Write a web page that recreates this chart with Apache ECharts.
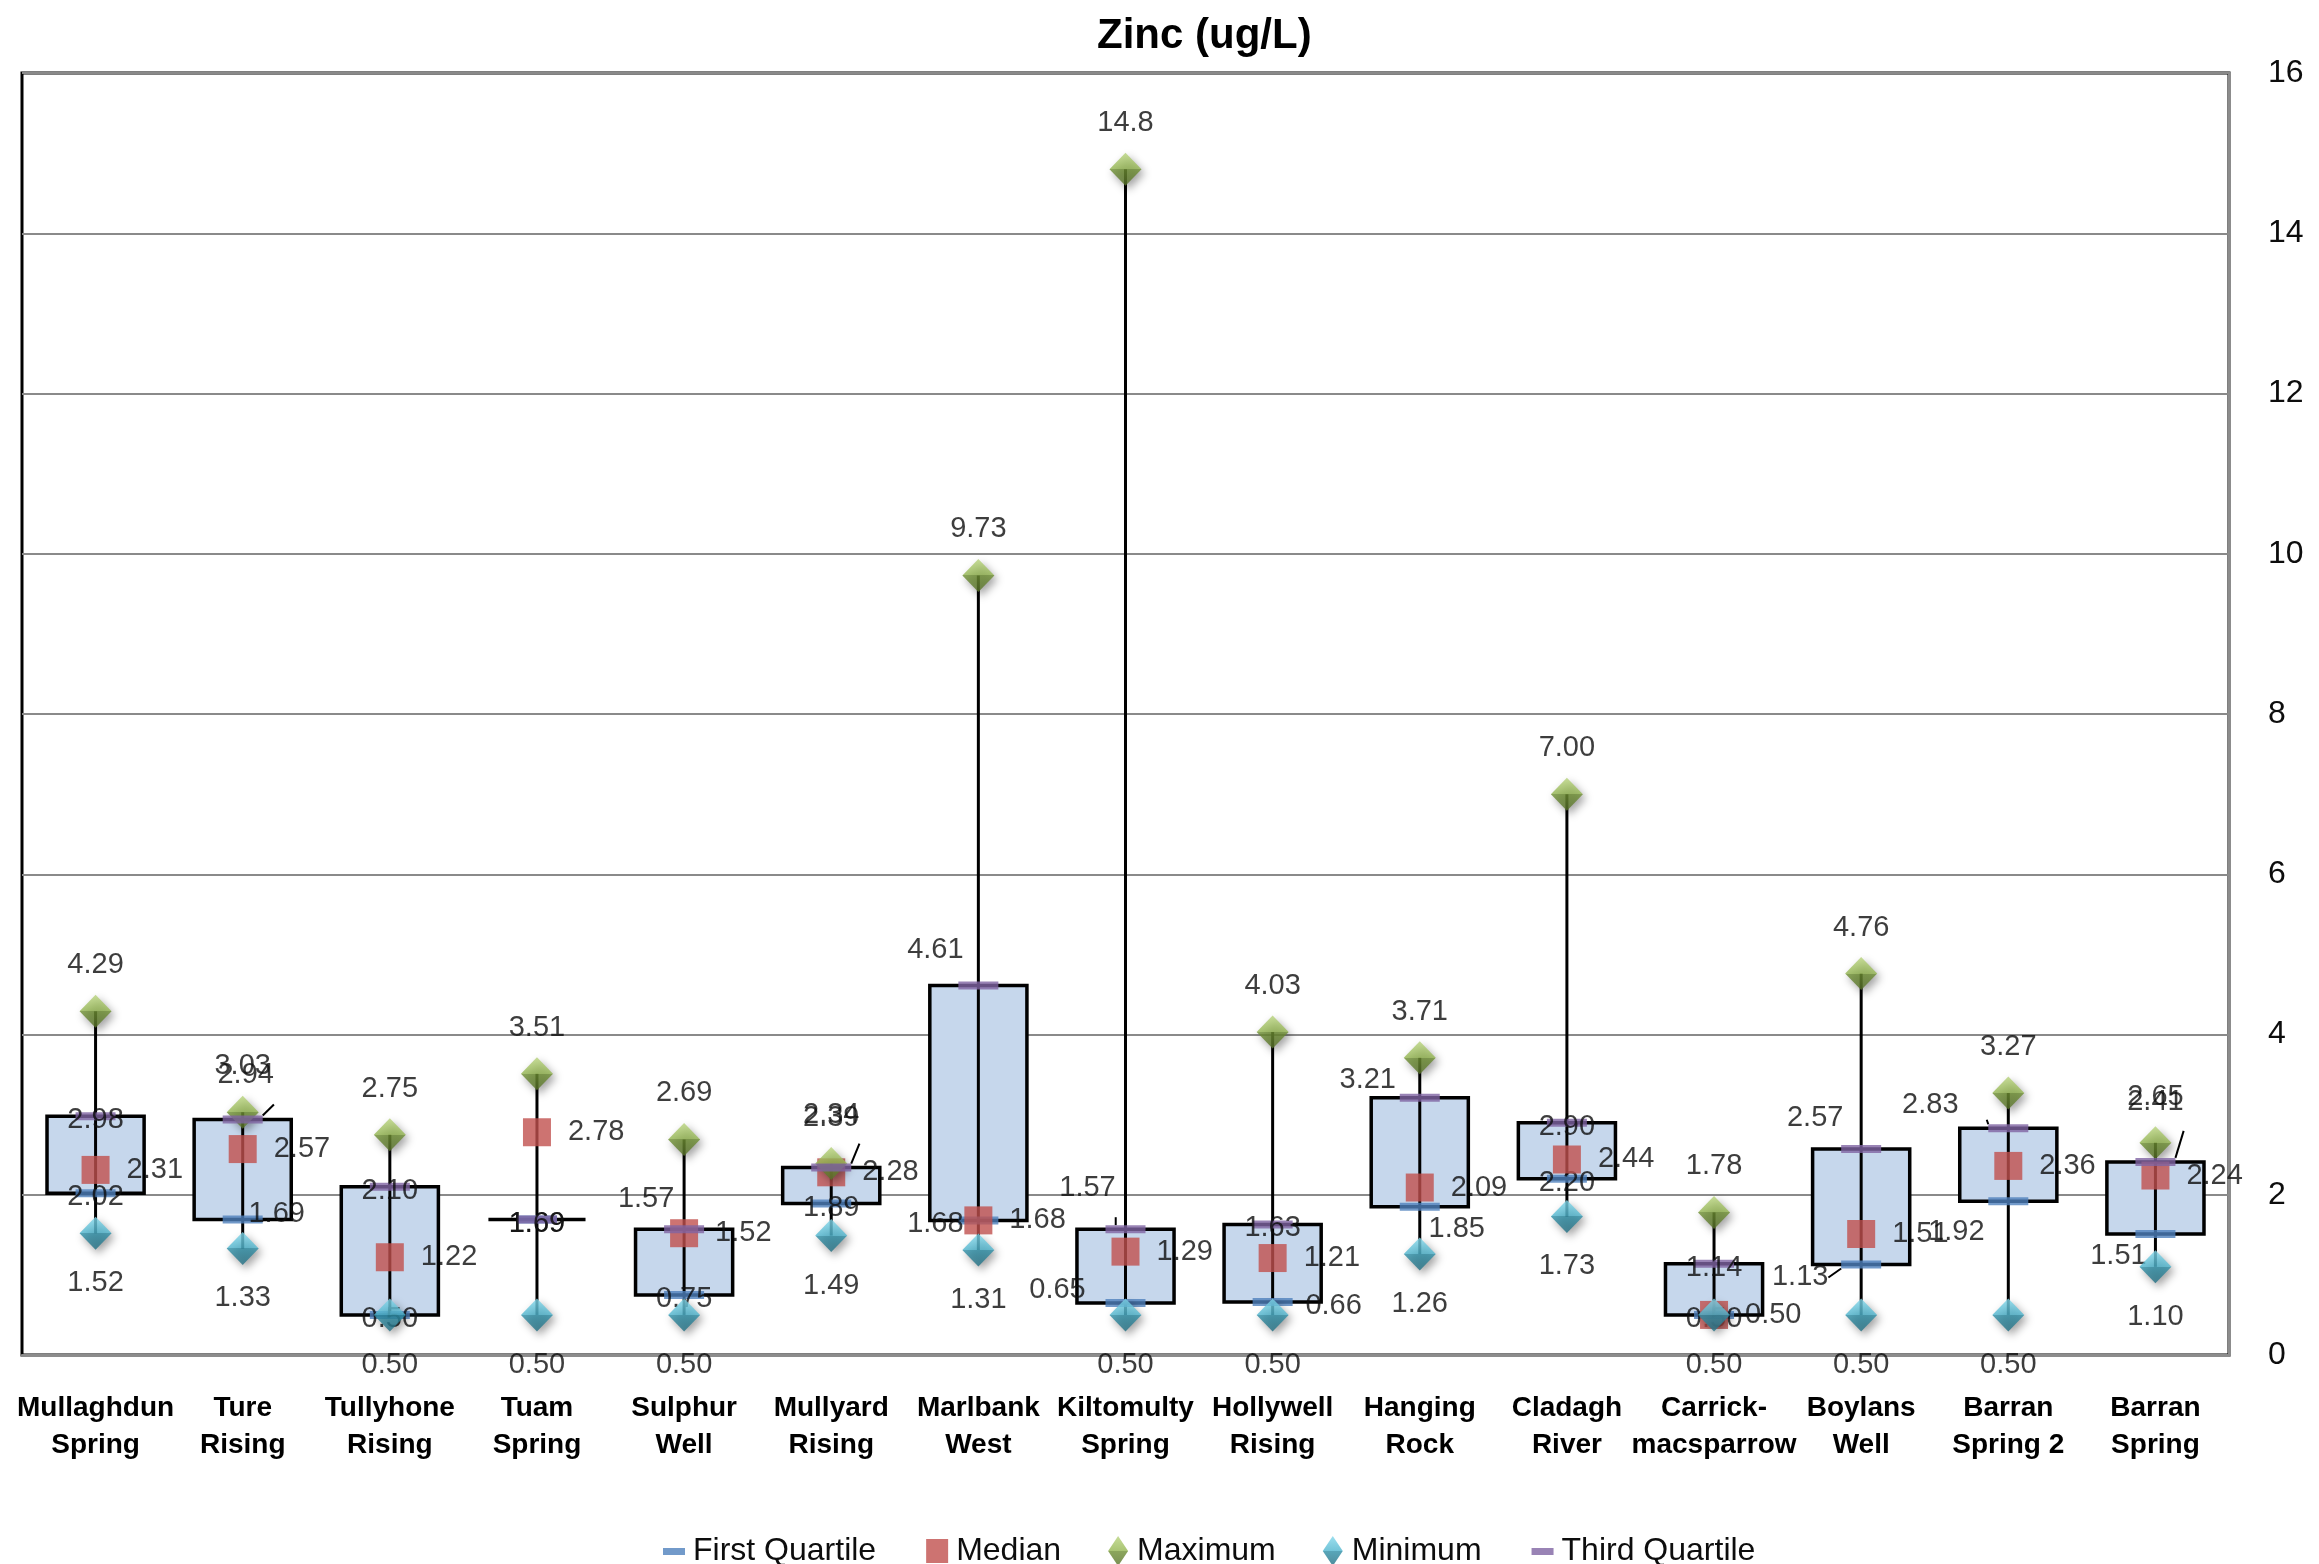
<!DOCTYPE html>
<html>
<head>
<meta charset="utf-8">
<script src="https://cdn.jsdelivr.net/npm/echarts@6/dist/echarts.min.js"></script>
<style>
  html, body { margin: 0; padding: 0; background: #ffffff; }
  #chart { width: 2319px; height: 1564px; }
</style>
</head>
<body>
<div id="chart"></div>
<script>
// Sampling sites along the category axis
const sites = [
  'Mullaghdun\nSpring', 'Ture\nRising', 'Tullyhone\nRising', 'Tuam\nSpring', 'Sulphur\nWell',
  'Mullyard\nRising', 'Marlbank\nWest', 'Kiltomulty\nSpring', 'Hollywell\nRising', 'Hanging\nRock',
  'Cladagh\nRiver', 'Carrick-\nmacsparrow', 'Boylans\nWell', 'Barran\nSpring 2', 'Barran\nSpring'
];

// Zinc summary statistics (ug/L) per site
const firstQuartile = [2.02, 1.69, 0.50, 1.69, 0.75, 1.89, 1.68, 0.65, 0.66, 1.85, 2.20, 0.50, 1.13, 1.92, 1.51];
const median        = [2.31, 2.57, 1.22, 2.78, 1.52, 2.28, 1.68, 1.29, 1.21, 2.09, 2.44, 0.50, 1.51, 2.36, 2.24];
const maximum       = [4.29, 3.03, 2.75, 3.51, 2.69, 2.39, 9.73, 14.8, 4.03, 3.71, 7.00, 1.78, 4.76, 3.27, 2.65];
const minimum       = [1.52, 1.33, 0.50, 0.50, 0.50, 1.49, 1.31, 0.50, 0.50, 1.26, 1.73, 0.50, 0.50, 0.50, 1.10];
const thirdQuartile = [2.98, 2.94, 2.10, 1.69, 1.57, 2.34, 4.61, 1.57, 1.63, 3.21, 2.90, 1.14, 2.57, 2.83, 2.41];

// Value axis ticks
const yMin = 0, yMax = 16, yStep = 2;

// Hand-placed data label nudges [dx, dy, leaderLine] keyed by series and site index
const labelNudges = {
  'Third Quartile': {
    1: [3, -44, true], 4: [-38, -30], 5: [0, -53, true], 6: [-43, -36], 7: [-38, -41, true],
    9: [-52, -18], 12: [-46, -31], 13: [-78, -23, true], 14: [0, -60, true]
  },
  'First Quartile': {
    1: [34, -6], 6: [-43, 4, true], 7: [-68, -13, true], 8: [61, 4], 9: [37, 22],
    12: [-61, 13, true], 13: [-52, 31], 14: [-37, 22]
  }
};

const FONT = '"Liberation Sans", Arial, sans-serif';
const INK = '#0d0d0d';
const fmt = v => (v >= 10 ? v.toFixed(1) : v.toFixed(2));

function points(name, values) {
  const nudges = labelNudges[name] || {};
  return values.map((v, i) => {
    const item = { value: [i, v] };
    const n = nudges[i];
    if (n) {
      item.label = { offset: [n[0], n[1]] };
      if (n[2]) item.labelLine = { show: true };
    }
    return item;
  });
}

// Bevelled look for the diamond markers: lighter upper half, darker lower half
function diamondFill(light, mid, dark, deep) {
  return {
    type: 'linear', x: 0, y: 0, x2: 0, y2: 1,
    colorStops: [
      { offset: 0, color: light }, { offset: 0.5, color: mid },
      { offset: 0.5, color: dark }, { offset: 1, color: deep }
    ]
  };
}

const labelBase = {
  show: true,
  fontFamily: FONT,
  fontSize: 29,
  color: INK,
  formatter: p => fmt(p.value[1])
};
const leader = { show: false, lineStyle: { color: '#000', width: 2 } };
const shadow = { shadowBlur: 8, shadowColor: 'rgba(0,0,0,0.45)', shadowOffsetX: 3, shadowOffsetY: 4 };

const boxData = sites.map((s, i) => [i, firstQuartile[i], thirdQuartile[i], minimum[i], maximum[i]]);

const chart = echarts.init(document.getElementById('chart'), null, { renderer: 'canvas' });

chart.setOption({
  animation: false,
  backgroundColor: '#ffffff',
  title: {
    text: 'Zinc (ug/L)',
    left: 1092,
    top: 10,
    textStyle: { fontFamily: FONT, fontSize: 42, fontWeight: 'bold', color: '#000' }
  },
  grid: {
    left: 22, right: 90, top: 73, bottom: 209,
    containLabel: false, outerBoundsMode: 'none',
    show: true, borderColor: '#000', borderWidth: 3, backgroundColor: 'transparent'
  },
  legend: {
    top: 1530,
    left: 655,
    itemWidth: 28,
    itemHeight: 30,
    itemGap: 47,
    textStyle: { fontFamily: FONT, fontSize: 32, color: INK },
    data: [
      { name: 'First Quartile', icon: 'path://M0,0M28,30M3,12h22v7h-22z' },
      { name: 'Median', icon: 'path://M0,0M28,30M3,3h22v24h-22z' },
      { name: 'Maximum', icon: 'path://M14,0L24,15L14,30L4,15z' },
      { name: 'Minimum', icon: 'path://M14,0L24,15L14,30L4,15z' },
      { name: 'Third Quartile', icon: 'path://M0,0M28,30M3,12h22v7h-22z' }
    ]
  },
  xAxis: {
    type: 'category',
    data: sites,
    boundaryGap: true,
    axisTick: { show: false },
    axisLine: { show: true, lineStyle: { color: '#8c8c8c', width: 3 } },
    axisLabel: {
      interval: 0, margin: 35, fontFamily: FONT, fontSize: 28, fontWeight: 'bold',
      lineHeight: 37, color: '#000', align: 'center'
    },
    splitLine: { show: false }
  },
  yAxis: {
    type: 'value',
    position: 'right',
    min: yMin, max: yMax, interval: yStep,
    axisLine: { show: true, lineStyle: { color: '#8c8c8c', width: 3 } },
    axisTick: { show: false },
    axisLabel: { margin: 39, fontFamily: FONT, fontSize: 32, color: INK },
    splitLine: { show: true, lineStyle: { color: '#8a8a8a', width: 2 } }
  },
  series: [
    {
      // quartile box with the min-max line through it
      type: 'custom',
      name: 'range',
      z: 2,
      data: boxData,
      encode: { x: 0, y: [1, 2, 3, 4] },
      renderItem: (params, api) => {
        const i = api.value(0);
        const lo = api.coord([i, api.value(1)]);
        const hi = api.coord([i, api.value(2)]);
        const top = api.coord([i, api.value(4)]);
        const bot = api.coord([i, api.value(3)]);
        const w = api.size([1, 0])[0] * 0.66;
        return {
          type: 'group',
          children: [
            {
              type: 'rect',
              shape: { x: lo[0] - w / 2, y: Math.min(lo[1], hi[1]), width: w, height: Math.abs(lo[1] - hi[1]) },
              style: { fill: '#c6d7ec', stroke: '#000', lineWidth: 3.5 }
            },
            {
              type: 'line',
              shape: { x1: top[0], y1: top[1], x2: bot[0], y2: bot[1] },
              style: { stroke: '#000', lineWidth: 3 }
            }
          ]
        };
      }
    },
    {
      name: 'First Quartile',
      type: 'scatter',
      z: 3,
      symbol: 'rect',
      symbolSize: [40, 8],
      itemStyle: { color: '#4f81bd' },
      label: Object.assign({}, labelBase, { position: 'inside', offset: [0, 4] }),
      labelLine: leader,
      data: points('First Quartile', firstQuartile)
    },
    {
      name: 'Median',
      type: 'scatter',
      z: 4,
      symbol: 'rect',
      symbolSize: [28, 28],
      itemStyle: { color: '#c0504d' },
      label: Object.assign({}, labelBase, { position: 'right', distance: 17 }),
      data: points('Median', median)
    },
    {
      name: 'Maximum',
      type: 'scatter',
      z: 5,
      symbol: 'diamond',
      symbolSize: [32, 33],
      itemStyle: Object.assign({ color: diamondFill('#b9d47e', '#93b550', '#6f9033', '#58722a') }, shadow),
      label: Object.assign({}, labelBase, { position: 'inside', offset: [0, -46] }),
      data: points('Maximum', maximum)
    },
    {
      name: 'Minimum',
      type: 'scatter',
      z: 6,
      symbol: 'diamond',
      symbolSize: [32, 33],
      itemStyle: Object.assign({ color: diamondFill('#84d8eb', '#4fb5ce', '#2f90a8', '#236f82') }, shadow),
      label: Object.assign({}, labelBase, { position: 'inside', offset: [0, 50] }),
      data: points('Minimum', minimum)
    },
    {
      name: 'Third Quartile',
      type: 'scatter',
      z: 7,
      symbol: 'rect',
      symbolSize: [40, 8],
      itemStyle: { color: '#8064a2' },
      label: Object.assign({}, labelBase, { position: 'inside', offset: [0, 4] }),
      labelLine: leader,
      data: points('Third Quartile', thirdQuartile)
    }
  ]
});
</script>
</body>
</html>
